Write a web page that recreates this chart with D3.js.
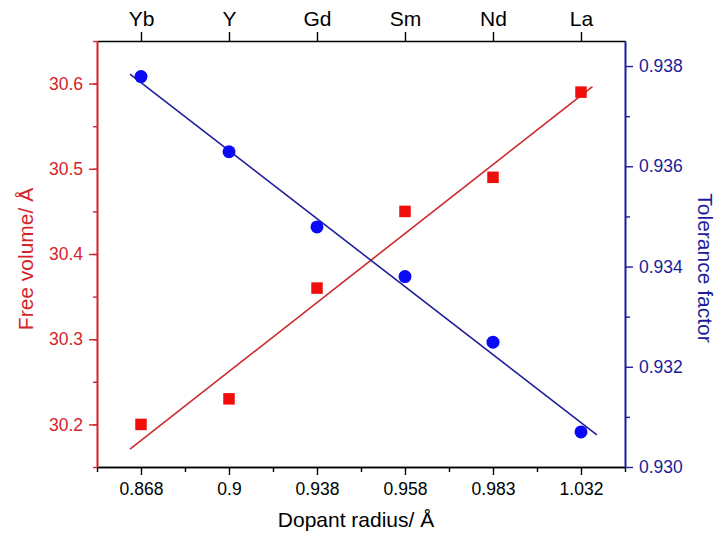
<!DOCTYPE html>
<html>
<head>
<meta charset="utf-8">
<script src="https://cdn.jsdelivr.net/npm/d3@7/dist/d3.min.js"></script>
<style>
  html, body { margin: 0; padding: 0; background: #fff; }
  svg { display: block; font-family: "Liberation Sans", Arial, sans-serif; }
</style>
</head>
<body>
<svg id="chart" width="716" height="533"></svg>
<script>
// ---- data ----
const elements = ["Yb", "Y", "Gd", "Sm", "Nd", "La"];
const radiusLabels = ["0.868", "0.9", "0.938", "0.958", "0.983", "1.032"];
const freeVolume = [30.20, 30.23, 30.36, 30.45, 30.49, 30.59];
const toleranceFactor = [0.93779, 0.93629, 0.93479, 0.93380, 0.93249, 0.93070];
// linear-fit lines (position in category steps, value)
const fitSteps = [-0.125, 5.13];
const freeVolumeFit = [30.171, 30.5965];
const fitStepsTol = [-0.125, 5.18];
const toleranceFit = [0.93784, 0.93064];
const leftTicks = [30.2, 30.3, 30.4, 30.5, 30.6];
const rightTicks = [0.930, 0.932, 0.934, 0.936, 0.938];

// ---- layout ----
const svg = d3.select("#chart");
const L = 97, R = 625, T = 41, B = 467;
const RED = "#d4242b", RED_LINE = "#cc2a2a", RED_PT = "#f20d0d";
const BLUE = "#1c1c9c", BLUE_LINE = "#1f1f9a", BLUE_PT = "#0a0af5";

const idx = d3.range(elements.length);
const x = d3.scaleLinear().domain([-0.5, elements.length - 0.5]).range([L, R]);
const yL = d3.scaleLinear().domain([30.15, 30.65]).range([B, T]);
const yR = d3.scaleLinear().domain([0.930, 0.9385]).range([B, T]);

// ---- axes ----
function style(g, color) {
  g.select(".domain").attr("stroke", color).attr("stroke-width", 1.6);
  g.selectAll(".tick line").attr("stroke", color).attr("stroke-width", 1.4);
  g.selectAll(".tick text").attr("fill", color);
}

// bottom minor
const gBm = svg.append("g").attr("transform", `translate(0,${B})`)
  .call(d3.axisBottom(x).tickValues(d3.range(-0.5, elements.length, 1)).tickSize(5).tickSizeOuter(0).tickFormat(""));
style(gBm, "#000");
// bottom major
const gB = svg.append("g").attr("transform", `translate(0,${B})`)
  .call(d3.axisBottom(x).tickValues(idx).tickSize(8).tickSizeOuter(0).tickPadding(8)
    .tickFormat(i => radiusLabels[i]));
style(gB, "#000");
gB.selectAll(".tick text").attr("font-size", 17.5);

// top major
const gT = svg.append("g").attr("transform", `translate(0,${T})`)
  .call(d3.axisTop(x).tickValues(idx).tickSize(9).tickSizeOuter(0).tickPadding(6)
    .tickFormat(i => elements[i]));
style(gT, "#000");
gT.selectAll(".tick text").attr("font-size", 21);

// left minor
const gLm = svg.append("g").attr("transform", `translate(${L},0)`)
  .call(d3.axisLeft(yL).tickValues(d3.range(0, 11).map(k => 30.15 + k * 0.05)).tickSize(4).tickSizeOuter(0).tickFormat(""));
style(gLm, RED);
// left major
const gL = svg.append("g").attr("transform", `translate(${L},0)`)
  .call(d3.axisLeft(yL).tickValues(leftTicks).tickSize(8).tickSizeOuter(0).tickPadding(6)
    .tickFormat(d3.format(".1f")));
style(gL, RED);
gL.selectAll(".tick text").attr("font-size", 17.5);

// right minor
const gRm = svg.append("g").attr("transform", `translate(${R},0)`)
  .call(d3.axisRight(yR).tickValues([0.931, 0.933, 0.935, 0.937]).tickSize(5).tickSizeOuter(0).tickFormat(""));
style(gRm, BLUE);
// right major
const gR = svg.append("g").attr("transform", `translate(${R},0)`)
  .call(d3.axisRight(yR).tickValues(rightTicks).tickSize(8).tickSizeOuter(0).tickPadding(6)
    .tickFormat(d3.format(".3f")));
style(gR, BLUE);
gR.selectAll(".tick text").attr("font-size", 17.5);

// ---- fit lines ----
svg.append("line")
  .attr("x1", x(fitSteps[0])).attr("y1", yL(freeVolumeFit[0]))
  .attr("x2", x(fitSteps[1])).attr("y2", yL(freeVolumeFit[1]))
  .attr("stroke", RED_LINE).attr("stroke-width", 1.6);
svg.append("line")
  .attr("x1", x(fitStepsTol[0])).attr("y1", yR(toleranceFit[0]))
  .attr("x2", x(fitStepsTol[1])).attr("y2", yR(toleranceFit[1]))
  .attr("stroke", BLUE_LINE).attr("stroke-width", 1.6);

// ---- points ----
const sq = 11.5;
svg.append("g").selectAll("rect").data(idx).join("rect")
  .attr("x", i => x(i) - sq / 2).attr("y", i => yL(freeVolume[i]) - sq / 2)
  .attr("width", sq).attr("height", sq).attr("fill", RED_PT);
svg.append("g").selectAll("circle").data(idx).join("circle")
  .attr("cx", i => x(i)).attr("cy", i => yR(toleranceFactor[i]))
  .attr("r", 6.5).attr("fill", BLUE_PT);

// ---- titles ----
svg.append("text").attr("x", 356).attr("y", 527)
  .attr("text-anchor", "middle").attr("font-size", 21).attr("fill", "#000")
  .text("Dopant radius/ Å");
svg.append("text").attr("transform", "translate(33,259) rotate(-90)")
  .attr("text-anchor", "middle").attr("font-size", 21).attr("fill", RED)
  .text("Free volume/ Å");
svg.append("text").attr("transform", "translate(698,268) rotate(90)")
  .attr("text-anchor", "middle").attr("font-size", 21).attr("fill", BLUE)
  .text("Tolerance factor");
</script>
</body>
</html>
